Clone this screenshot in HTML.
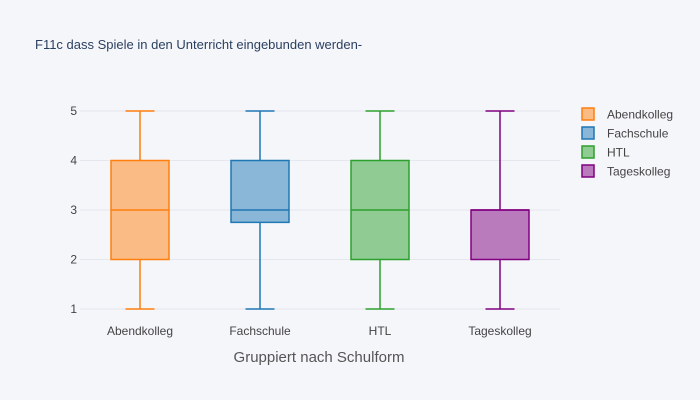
<!DOCTYPE html>
<html><head><meta charset="utf-8"><style>
body{margin:0;background:#f5f6fa;}
svg{display:block;font-family:"Liberation Sans",sans-serif;}
</style></head><body>
<svg id="c" width="700" height="400">
<rect width="700" height="400" fill="#f5f6fa"/>
<text x="35" y="49" font-size="13" fill="#2a3f5f">F11c dass Spiele in den Unterricht eingebunden werden-</text>
<g id="grid"></g><g id="boxes"></g>
<text x="319" y="362" font-size="15" fill="#555" text-anchor="middle">Gruppiert nach Schulform</text>
<g id="legend"></g>
</svg>
<script>
const categories=["Abendkolleg","Fachschule","HTL","Tageskolleg"];
const mins=[1,1,1,1];
const q1s=[2,2.75,2,2];
const medians=[3,3,3,3];
const q3s=[4,4,4,3];
const maxs=[5,5,5,5];
const yTicks=[1,2,3,4,5];
const colors=["#ff7f0e","#1f77b4","#2ca02c","#800080"];
const NS="http://www.w3.org/2000/svg";
const x0=80,x1=560,yTop=111,yBot=309;
const y=v=>yBot-(v-1)*(yBot-yTop)/4;
const bw=(x1-x0)/categories.length;
const xc=i=>x0+bw*(i+0.5);
function mk(tag,attrs,parent){const e=document.createElementNS(NS,tag);for(const k in attrs)e.setAttribute(k,attrs[k]);parent.appendChild(e);return e;}
const grid=document.getElementById('grid'),boxes=document.getElementById('boxes'),leg=document.getElementById('legend');
yTicks.forEach(t=>{
 const l=mk('line',{x1:x0,x2:x1,y1:y(t),y2:y(t),stroke:'#e4e7ee','stroke-width':1},grid);
 
 
 const tx=mk('text',{x:x0-3,y:y(t)+4,'font-size':12,fill:'#444','text-anchor':'end'},grid);
 tx.textContent=t;
 
 
});
categories.forEach((c,i)=>{
 const cx=xc(i),w=58,col=colors[i];
 const g=mk('g',{},boxes);
 
 
 mk('line',{x1:cx,x2:cx,y1:y(maxs[i]),y2:y(q3s[i]),stroke:col,'stroke-width':1.5},g);
 mk('line',{x1:cx,x2:cx,y1:y(q1s[i]),y2:y(mins[i]),stroke:col,'stroke-width':1.5},g);
 mk('line',{x1:cx-w/4,x2:cx+w/4,y1:y(maxs[i]),y2:y(maxs[i]),stroke:col,'stroke-width':1.5},g);
 mk('line',{x1:cx-w/4,x2:cx+w/4,y1:y(mins[i]),y2:y(mins[i]),stroke:col,'stroke-width':1.5},g);
 mk('rect',{x:cx-w/2,y:y(q3s[i]),width:w,height:y(q1s[i])-y(q3s[i]),fill:col,'fill-opacity':0.5,stroke:col,'stroke-width':1.5},g);
 mk('line',{x1:cx-w/2,x2:cx+w/2,y1:y(medians[i]),y2:y(medians[i]),stroke:col,'stroke-width':1.5},g);
 const tx=mk('text',{x:cx,y:335,'font-size':12,fill:'#444','text-anchor':'middle'},boxes);
 tx.textContent=c;
 
 
 const lg=mk('g',{},leg);
 
 
 const ly=114+i*19;
 mk('rect',{x:582,y:ly-6,width:12,height:12,fill:col,'fill-opacity':0.5,stroke:col,'stroke-width':1.5},lg);
 const lt=mk('text',{x:607,y:ly+4.5,'font-size':12,fill:'#444'},lg);
 lt.textContent=c;
});
</script>
</body></html>
